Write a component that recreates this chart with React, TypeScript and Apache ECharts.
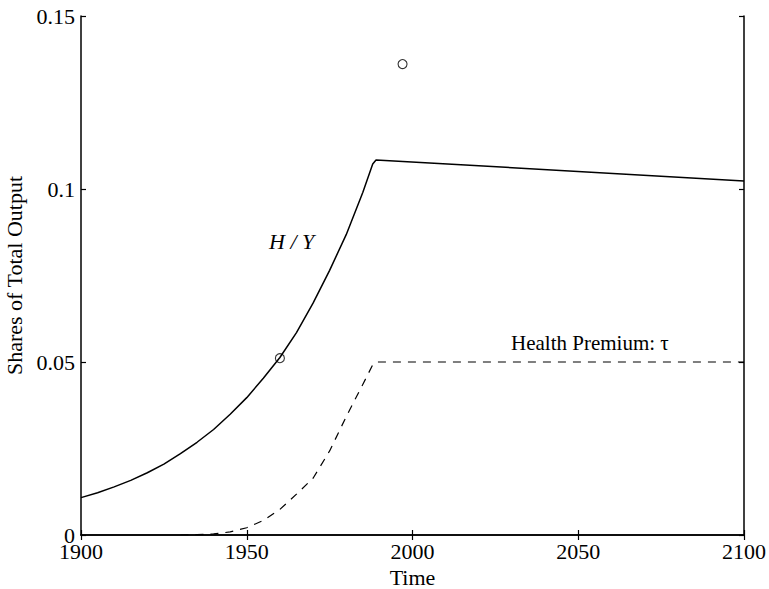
import React, { useEffect, useRef } from "react";
import * as echarts from "echarts";

// H/Y share (solid line)
const hyYears = [1900, 1905, 1910, 1915, 1920, 1925, 1930, 1935, 1940, 1945, 1950, 1955, 1960, 1965, 1970, 1975, 1980, 1985, 1988, 1989, 2100];
const hyValues = [0.0108, 0.0122, 0.0139, 0.0158, 0.018, 0.0205, 0.0235, 0.0268, 0.0305, 0.0349, 0.0397, 0.0453, 0.0513, 0.0585, 0.067, 0.0765, 0.0868, 0.099, 0.1072, 0.1084, 0.1023];

// Health premium tau (dashed line)
const tauYears = [1930, 1935, 1940, 1945, 1950, 1955, 1960, 1965, 1970, 1975, 1980, 1985, 1988, 1989, 2100];
const tauValues = [0, 0.0001, 0.0003, 0.0009, 0.0021, 0.0042, 0.0074, 0.0118, 0.0164, 0.0243, 0.0342, 0.0435, 0.0492, 0.05, 0.05];

// Data points (circles)
const obsYears = [1960, 1997];
const obsValues = [0.0511, 0.1361];

const xTicks = [1900, 1950, 2000, 2050, 2100];
const yTicks = [0, 0.05, 0.1, 0.15];

const FONT = "'Liberation Serif', 'Times New Roman', serif";

export default function App() {
  const ref = useRef<HTMLDivElement>(null);
  useEffect(() => {
    if (!ref.current) return;
    const chart = echarts.init(ref.current, null, { renderer: "svg" });
    const axisLine = { show: true, lineStyle: { color: "#000", width: 1.5 } };
    const tick = { show: true, inside: true, length: 5, lineStyle: { color: "#000", width: 1.2 } };
    chart.setOption({
      animation: false,
      backgroundColor: "#fff",
      grid: { left: 81, top: 16, right: 25, bottom: 54, containLabel: false, outerBoundsMode: "none" },
      xAxis: [
        {
          type: "value",
          min: xTicks[0],
          max: xTicks[xTicks.length - 1],
          interval: 50,
          name: "Time",
          nameLocation: "middle",
          nameGap: 27,
          nameTextStyle: { fontFamily: FONT, fontSize: 22, color: "#000" },
          axisLine,
          axisTick: tick,
          splitLine: { show: false },
          axisLabel: { fontFamily: FONT, fontSize: 22, color: "#000", margin: 5, formatter: (v: number) => String(v) },
        },
        {
          type: "value",
          position: "top",
          min: xTicks[0],
          max: xTicks[xTicks.length - 1],
          interval: 50,
          axisLine,
          axisTick: tick,
          splitLine: { show: false },
          axisLabel: { show: false },
        },
      ],
      yAxis: [
        {
          type: "value",
          min: yTicks[0],
          max: yTicks[yTicks.length - 1],
          interval: 0.05,
          name: "Shares of Total Output",
          nameLocation: "middle",
          nameRotate: 90,
          nameGap: 46,
          nameTextStyle: { fontFamily: FONT, fontSize: 22, color: "#000" },
          axisLine,
          axisTick: tick,
          splitLine: { show: false },
          axisLabel: {
            fontFamily: FONT,
            fontSize: 22,
            color: "#000",
            margin: 6,
            formatter: (v: number) => String(Math.round(v * 100) / 100),
          },
        },
        {
          type: "value",
          position: "right",
          min: yTicks[0],
          max: yTicks[yTicks.length - 1],
          interval: 0.05,
          axisLine,
          axisTick: tick,
          splitLine: { show: false },
          axisLabel: { show: false },
        },
      ],
      series: [
        {
          type: "line",
          data: hyYears.map((y, i) => [y, hyValues[i]]),
          showSymbol: false,
          smooth: false,
          lineStyle: { color: "#000", width: 1.5 },
          silent: true,
        },
        {
          type: "line",
          data: tauYears.map((y, i) => [y, tauValues[i]]),
          showSymbol: false,
          smooth: false,
          lineStyle: { color: "#000", width: 1.2, type: [8, 7] },
          silent: true,
        },
        {
          type: "scatter",
          data: obsYears.map((y, i) => [y, obsValues[i]]),
          symbol: "circle",
          symbolSize: 9,
          itemStyle: { color: "transparent", borderColor: "#000", borderWidth: 1.1 },
          silent: true,
        },
      ],
      graphic: [
        {
          type: "text",
          left: 269,
          top: 230,
          style: { text: "H / Y", fontFamily: FONT, fontSize: 22, fontStyle: "italic", fill: "#000" },
        },
        {
          type: "text",
          left: 511,
          top: 332,
          style: { text: "Health Premium: τ", fontFamily: FONT, fontSize: 21, fill: "#000" },
        },
      ],
    });
    return () => chart.dispose();
  }, []);
  return (
    <div
      ref={ref}
      style={{ position: "fixed", left: 0, top: 0, width: 769, height: 589, background: "#fff" }}
    />
  );
}
